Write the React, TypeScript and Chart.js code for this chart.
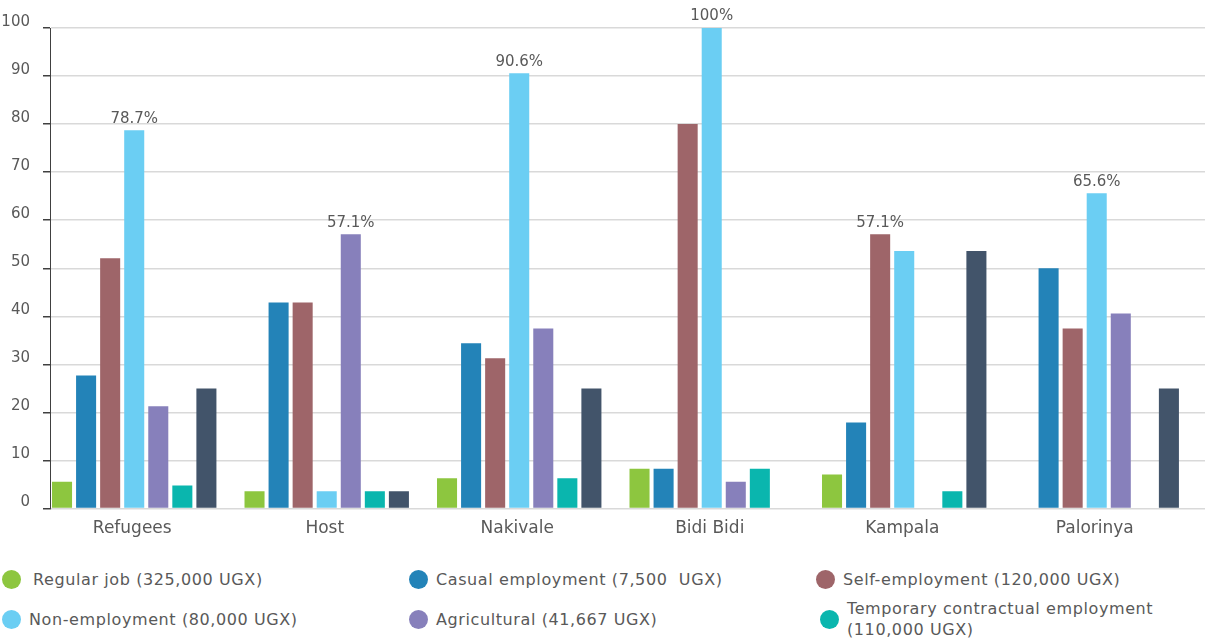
import React, { useEffect, useRef } from "react";
import { Chart, registerables } from "chart.js";

Chart.register(...registerables);

const categories = ["Refugees", "Host", "Nakivale", "Bidi Bidi", "Kampala", "Palorinya"];

const regularJob = [5.6, 3.6, 6.3, 8.3, 7.1, 0];
const casualEmployment = [27.7, 42.9, 34.4, 8.3, 17.9, 50];
const selfEmployment = [52.1, 42.9, 31.3, 80, 57.1, 37.5];
const nonEmployment = [78.7, 3.6, 90.6, 100, 53.6, 65.6];
const agricultural = [21.3, 57.1, 37.5, 5.6, 0, 40.6];
const temporaryContractual = [4.8, 3.6, 6.3, 8.3, 3.6, 0];
const unlabelledSeries = [25, 3.6, 25, 0, 53.6, 25];
const emptySlot = [0, 0, 0, 0, 0, 0];

const highlightLabels = ["78.7%", "57.1%", "90.6%", "100%", "57.1%", "65.6%"];
const highlightSeries = [3, 4, 3, 3, 2, 3];

const yTicks = [0, 10, 20, 30, 40, 50, 60, 70, 80, 90, 100];

const seriesNames = [
  "Regular job (325,000 UGX)",
  "Casual employment (7,500  UGX)",
  "Self-employment (120,000 UGX)",
  "Non-employment (80,000 UGX)",
  "Agricultural (41,667 UGX)",
  "Temporary contractual employment (110,000 UGX)",
  "Other",
  "",
];
const seriesColors = ["#8dc63f", "#2383b8", "#9e6569", "#6bcef3", "#8780bb", "#0ab6ae", "#42546a", "#ffffff"];

const FONT = "'DejaVu Sans', sans-serif";
const TEXT = "#595959";

const labelPlugin = {
  id: "highlightLabels",
  afterDatasetsDraw(chart: any) {
    const ctx = chart.ctx;
    ctx.save();
    ctx.font = `15px ${FONT}`;
    ctx.fillStyle = TEXT;
    ctx.textAlign = "center";
    ctx.textBaseline = "bottom";
    highlightLabels.forEach((lab, i) => {
      const meta = chart.getDatasetMeta(highlightSeries[i]);
      const el = meta.data[i];
      if (!el) return;
      ctx.fillText(lab, el.x, el.y - 4);
    });
    ctx.restore();
  },
};

const legendItems = [
  { idx: 0, x: 2, y: 579 },
  { idx: 1, x: 409, y: 579 },
  { idx: 2, x: 816, y: 579 },
  { idx: 3, x: 2, y: 619 },
  { idx: 4, x: 409, y: 619 },
  { idx: 5, x: 820, y: 619 },
];

export default function App() {
  const ref = useRef<HTMLCanvasElement>(null);
  useEffect(() => {
    document.body.style.margin = "0";
    const series = [
      regularJob,
      casualEmployment,
      selfEmployment,
      nonEmployment,
      agricultural,
      temporaryContractual,
      unlabelledSeries,
      emptySlot,
    ];
    const chart = new Chart(ref.current!, {
      type: "bar",
      data: {
        labels: categories,
        datasets: series.map((d, i) => ({
          label: seriesNames[i],
          data: d,
          backgroundColor: seriesColors[i],
          barPercentage: 0.833,
          categoryPercentage: 1,
        })),
      },
      options: {
        animation: false,
        responsive: false,
        maintainAspectRatio: false,
        layout: { padding: { top: 28, right: 0, left: 0, bottom: 0 } },
        plugins: { legend: { display: false }, tooltip: { enabled: false } },
        scales: {
          x: {
            grid: { display: false },
            border: { display: false },
            ticks: { color: TEXT, font: { family: FONT, size: 17 }, padding: 1.5, labelOffset: -14 },
          },
          y: {
            min: 0,
            max: 100,
            afterBuildTicks: (scale: any) => {
              scale.ticks = yTicks.map((v) => ({ value: v }));
            },
            afterFit: (scale: any) => {
              scale.width = 50;
            },
            grid: { color: "#d9d9d9", tickColor: "#404040", tickLength: 7, lineWidth: 1.5 },
            border: { display: true, color: "#404040", width: 1 },
            ticks: { color: TEXT, font: { family: FONT, size: 15 }, padding: 13, labelOffset: -6 },
          },
        },
      },
      plugins: [labelPlugin],
    });
    return () => chart.destroy();
  }, []);

  return (
    <div style={{ position: "relative", width: 1205, height: 639, fontFamily: FONT, color: TEXT, background: "#fff" }}>
      <canvas ref={ref} width={1205} height={540} style={{ position: "absolute", left: 0, top: 0 }} />
      {legendItems.map((it) => {
        const name = seriesNames[it.idx];
        const twoLine = it.idx === 5;
        return (
          <div key={it.idx} style={{ position: "absolute", left: it.x, top: it.y - 20, height: 40, display: "flex", alignItems: "center" }}>
            <div style={{ width: 19, height: 19, borderRadius: "50%", background: seriesColors[it.idx], flex: "none" }} />
            <div style={{ marginLeft: it.idx === 0 ? 12 : 8, fontSize: 16, letterSpacing: "0.6px", lineHeight: "21px", width: twoLine ? 360 : undefined, whiteSpace: twoLine ? "normal" : "pre" }}>
              {twoLine ? (
                <>
                  Temporary contractual employment
                  <br />
                  (110,000 UGX)
                </>
              ) : (
                name
              )}
            </div>
          </div>
        );
      })}
    </div>
  );
}
